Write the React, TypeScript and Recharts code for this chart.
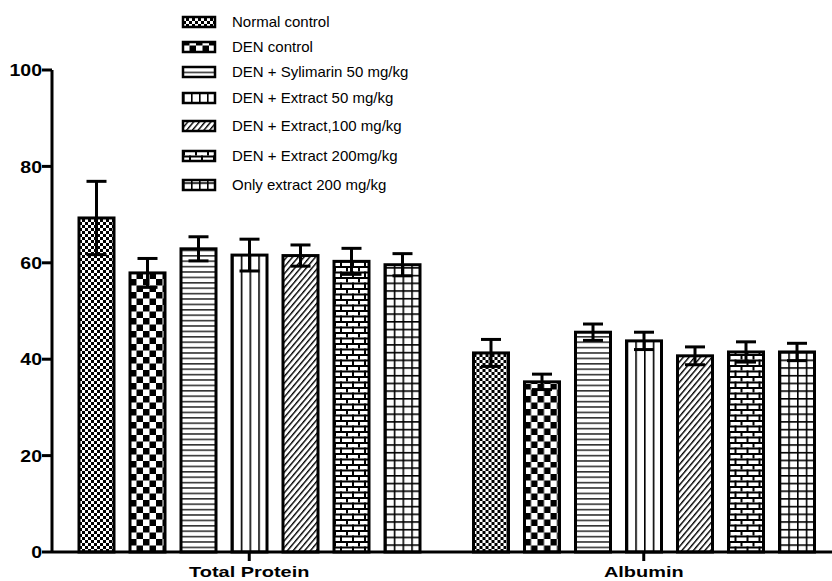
import React from 'react'
import { BarChart, Bar, XAxis, YAxis, ErrorBar, Legend } from 'recharts'

const categories = ['Total Protein', 'Albumin']

const seriesNames = [
  'Normal control',
  'DEN control',
  'DEN + Sylimarin 50 mg/kg',
  'DEN + Extract 50 mg/kg',
  'DEN + Extract,100 mg/kg',
  'DEN + Extract 200mg/kg',
  'Only extract 200 mg/kg',
]

// mean values, [Total Protein, Albumin]
const normalControl = [69.3, 41.3]
const denControl = [57.9, 35.3]
const sylimarin50 = [62.9, 45.6]
const extract50 = [61.6, 43.8]
const extract100 = [61.5, 40.7]
const extract200 = [60.3, 41.5]
const onlyExtract200 = [59.6, 41.5]

// error (SEM), same order
const normalControlErr = [7.6, 2.8]
const denControlErr = [3.0, 1.6]
const sylimarin50Err = [2.5, 1.7]
const extract50Err = [3.3, 1.8]
const extract100Err = [2.2, 1.85]
const extract200Err = [2.7, 2.1]
const onlyExtract200Err = [2.3, 1.8]

const yTicks = [0, 20, 40, 60, 80, 100]

const seriesValues = [normalControl, denControl, sylimarin50, extract50, extract100, extract200, onlyExtract200]
const seriesErrors = [normalControlErr, denControlErr, sylimarin50Err, extract50Err, extract100Err, extract200Err, onlyExtract200Err]

const data = categories.map((name, c) => {
  const row: Record<string, string | number> = { name }
  seriesValues.forEach((vals, i) => {
    row[`s${i}`] = vals[c]
    row[`e${i}`] = seriesErrors[i][c]
  })
  return row
})

const FONT = '"Liberation Sans", Arial, sans-serif'
const legendRowY = [22, 47, 72, 98, 126, 156, 185]

// pattern tile for each series
function tile(kind: number, w: number) {
  switch (kind) {
    case 0:
      return { tw: 6, th: 6, rot: 0, marks: <><rect x={0} y={0} width={3} height={3} fill="#000" /><rect x={3} y={3} width={3} height={3} fill="#000" /></> }
    case 1:
      return { tw: 13, th: 13, rot: 0, marks: <><rect x={0} y={0} width={6.5} height={6.5} fill="#000" /><rect x={6.5} y={6.5} width={6.5} height={6.5} fill="#000" /></> }
    case 2:
      return { tw: 10, th: 5.4, rot: 0, marks: <rect x={0} y={0} width={10} height={1.6} fill="#333" /> }
    case 3:
      return { tw: w / 4, th: 10, rot: 0, marks: <rect x={0} y={0} width={1.6} height={10} fill="#000" /> }
    case 4:
      return { tw: 4.4, th: 10, rot: 40, marks: <rect x={0} y={0} width={1.4} height={10} fill="#000" /> }
    case 5:
      return {
        tw: 12, th: 11, rot: 0,
        marks: (
          <>
            <rect x={0} y={0} width={12} height={2} fill="#000" />
            <rect x={0} y={5.5} width={12} height={2} fill="#000" />
            <rect x={0} y={0} width={2} height={5.5} fill="#000" />
            <rect x={6} y={5.5} width={2} height={5.5} fill="#000" />
          </>
        ),
      }
    default:
      return {
        tw: w / 4, th: 7.7, rot: 0,
        marks: <><rect x={0} y={0} width={1.6} height={7.7} fill="#000" /><rect x={0} y={0} width={w / 4} height={1.6} fill="#000" /></>,
      }
  }
}

function HatchRect({ kind, id, x, y, width, height, sw }: any) {
  if (!width || !height) return null
  const t = tile(kind, width)
  return (
    <g>
      <defs>
        <pattern
          id={id}
          patternUnits="userSpaceOnUse"
          x={x}
          y={y + height}
          width={t.tw}
          height={t.th}
          patternTransform={t.rot ? `rotate(${t.rot})` : undefined}
        >
          <rect x={0} y={0} width={t.tw} height={t.th} fill="#fff" />
          {t.marks}
        </pattern>
      </defs>
      <rect x={x} y={y} width={width} height={height} fill={`url(#${id})`} stroke="#000" strokeWidth={sw} />
    </g>
  )
}

const YTick = ({ x, y, payload }: any) => (
  <text
    transform={`translate(${x},${y}) scale(1.15,1)`}
    textAnchor="end"
    dy="0.36em"
    fontSize={17}
    fontWeight="bold"
    fontFamily={FONT}
    fill="#000"
  >
    {payload.value}
  </text>
)

const XTick = ({ x, y, payload }: any) => (
  <text
    transform={`translate(${x},${y + 14}) scale(1.33,1)`}
    textAnchor="middle"
    fontSize={15}
    fontWeight="bold"
    fontFamily={FONT}
    fill="#000"
  >
    {payload.value}
  </text>
)

const renderLegend = () => (
  <div style={{ position: 'relative', width: 420, height: 200, fontFamily: FONT }}>
    {seriesNames.map((n, i) => (
      <div
        key={n}
        style={{ position: 'absolute', left: 0, top: legendRowY[i] - 8, height: 16, display: 'flex', alignItems: 'center' }}
      >
        <svg width={36} height={14} style={{ display: 'block' }}>
          <HatchRect kind={i} id={`lg${i}`} x={2} y={2} width={32} height={10} sw={2.5} />
        </svg>
        <span style={{ marginLeft: 15, fontSize: 15, lineHeight: '16px', color: '#000', whiteSpace: 'nowrap' }}>{n}</span>
      </div>
    ))}
  </div>
)

export default function App() {
  return (
    <div style={{ width: 832, height: 581, overflow: 'hidden', position: 'relative', background: '#fff' }}>
      <style>{'body{margin:0}'}</style>
      <BarChart
        width={841}
        height={581}
        data={data}
        margin={{ top: 70, right: 0, bottom: 0, left: 0 }}
        barSize={35}
        barGap={16}
      >
        <XAxis
          dataKey="name"
          height={29}
          tickSize={9}
          tickMargin={2}
          axisLine={{ stroke: '#000', strokeWidth: 3 }}
          tickLine={{ stroke: '#000', strokeWidth: 3 }}
          tick={<XTick />}
        />
        <YAxis
          domain={[0, 100]}
          ticks={yTicks}
          interval={0}
          width={52}
          tickSize={10}
          tickMargin={0}
          axisLine={{ stroke: '#000', strokeWidth: 3 }}
          tickLine={{ stroke: '#000', strokeWidth: 3 }}
          tick={<YTick />}
        />
        <Legend
          layout="vertical"
          align="center"
          verticalAlign="middle"
          content={renderLegend}
          wrapperStyle={{ left: 181, top: 0, width: 420, height: 200 }}
        />
        {seriesNames.map((n, i) => (
          <Bar
            key={n}
            dataKey={`s${i}`}
            name={n}
            fill="#fff"
            isAnimationActive={false}
            shape={(p: any) => (
              <HatchRect kind={i} id={`bp${i}-${p.index}`} x={p.x} y={p.y} width={p.width} height={p.height} sw={3} />
            )}
          >
            <ErrorBar dataKey={`e${i}`} width={10} stroke="#000" strokeWidth={3} isAnimationActive={false} />
          </Bar>
        ))}
      </BarChart>
    </div>
  )
}
